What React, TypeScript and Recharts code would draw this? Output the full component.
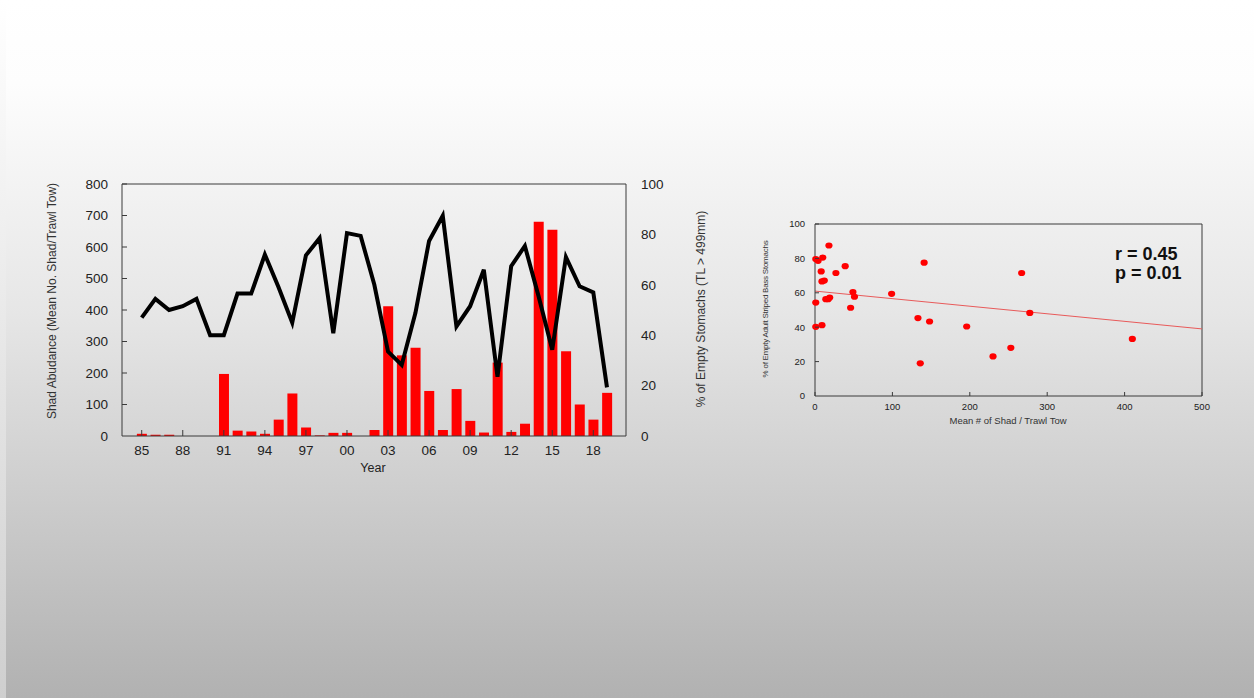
import React from 'react'
import {
  ComposedChart, Bar, Line, XAxis, YAxis, ReferenceLine,
  ScatterChart, Scatter,
} from 'recharts'

// left panel: shad abundance (bars) and % empty stomachs (line) by year
const years = [
  1985, 1986, 1987, 1988, 1989, 1990, 1991, 1992, 1993, 1994, 1995, 1996,
  1997, 1998, 1999, 2000, 2001, 2002, 2003, 2004, 2005, 2006, 2007, 2008,
  2009, 2010, 2011, 2012, 2013, 2014, 2015, 2016, 2017, 2018, 2019,
]
const shadAbundance = [
  7, 4, 4, 0, 0, 0, 197, 17, 14, 7, 52, 135,
  27, 2, 10, 10, 0, 19, 412, 256, 280, 143, 19, 149,
  48, 11, 233, 13, 39, 680, 655, 269, 100, 52, 137,
]
const emptyPct = [
  47, 54.4, 50, 51.5, 54.4, 40, 40, 56.5, 56.5, 72, 59, 45,
  71.7, 78.5, 40.8, 80.5, 79.4, 60, 33.5, 28.2, 48.8, 77.4, 87.4, 43.5,
  51.5, 66, 23.5, 67.4, 75.4, 55.5, 34.2, 71, 59.4, 57, 19.3,
]
const yearTicks = [1985, 1988, 1991, 1994, 1997, 2000, 2003, 2006, 2009, 2012, 2015, 2018]
const yearLabels = ['85', '88', '91', '94', '97', '00', '03', '06', '09', '12', '15', '18']
const abundanceTicks = [0, 100, 200, 300, 400, 500, 600, 700, 800]
const pctTicks = [0, 20, 40, 60, 80, 100]

// right panel: % empty vs mean shad per tow
const shadPerTow = [
  18, 1, 4, 10, 8, 27, 39, 141, 9, 12, 1, 14, 17, 19,
  49, 51, 99, 46, 1, 9, 133, 148, 136, 196, 230, 253, 267, 277.5, 410,
]
const emptyStomachs = [
  87.5, 79.6, 78.6, 80.5, 72.4, 71.5, 75.5, 77.5, 66.6, 67.1, 54.3, 56.3, 56.3, 57.2,
  60.4, 57.7, 59.4, 51.3, 40.2, 41.2, 45.3, 43.3, 19, 40.4, 23, 28, 71.5, 48.3, 33.2,
]
const fitX = [0, 500]
const fitY = [61, 39]
const shadTicks = [0, 100, 200, 300, 400, 500]
const scatterPctTicks = [0, 20, 40, 60, 80, 100]

const FONT = '"Liberation Sans", Arial, Helvetica, sans-serif'
const AXIS = '#3a3a3a'

const barData = years.map((y, i) => ({ year: y, shad: shadAbundance[i], pct: emptyPct[i] }))
const scatterData = shadPerTow.map((x, i) => ({ x, y: emptyStomachs[i] }))
const fitSegment = fitX.map((x, i) => ({ x, y: fitY[i] }))

// ticks that point into the plot, labels outside
const makeBottomTick = (size: number, margin: number, len: number, fontSize: number, labels?: Record<number, string>) =>
  (props: any) => {
    const { x, y, payload } = props
    const axisY = y - size - margin
    const text = labels ? labels[payload.value] : String(payload.value)
    return (
      <g>
        <line x1={x} x2={x} y1={axisY} y2={axisY - len} stroke={AXIS} strokeWidth={1} />
        <text x={x} y={y} dy="0.71em" textAnchor="middle" fill="#222" fontSize={fontSize} fontFamily={FONT}>
          {text}
        </text>
      </g>
    )
  }

const makeLeftTick = (size: number, margin: number, len: number, fontSize: number) =>
  (props: any) => {
    const { x, y, payload } = props
    const axisX = x + size + margin
    return (
      <g>
        {payload.value !== 0 && (
          <line x1={axisX} x2={axisX + len} y1={y} y2={y} stroke={AXIS} strokeWidth={1} />
        )}
        <text x={x} y={y} dy="0.355em" textAnchor="end" fill="#222" fontSize={fontSize} fontFamily={FONT}>
          {payload.value}
        </text>
      </g>
    )
  }

const RightTick = (props: any) => {
  const { x, y, payload } = props
  return (
    <text x={x} y={y} dy="0.355em" textAnchor="start" fill="#222" fontSize={13.5} fontFamily={FONT}>
      {payload.value}
    </text>
  )
}

const yearLabelMap: Record<number, string> = {}
yearTicks.forEach((t, i) => { yearLabelMap[t] = yearLabels[i] })

const YearTick = makeBottomTick(6, 3, 6, 13.5, yearLabelMap)
const AbundanceTick = makeLeftTick(6, 8, 5, 13.5)
const ShadTick = makeBottomTick(6, 1, 4, 9.5)
const ScatterPctTick = makeLeftTick(6, 4, 4, 9.5)

const title = (extra: React.CSSProperties): React.CSSProperties => ({
  position: 'absolute',
  fontFamily: FONT,
  color: '#333',
  whiteSpace: 'nowrap',
  ...extra,
})

export default function App() {
  return (
    <div
      style={{
        position: 'fixed', left: 0, top: 0, width: 1254, height: 698, overflow: 'hidden',
        background: 'linear-gradient(to bottom, #ffffff 0%, #fdfdfd 12%, #e6e6e6 45%, #c9c9c9 75%, #b1b1b1 100%)',
      }}
    >
      <div style={{ position: 'absolute', left: 0, top: 0, width: 6, height: 698, background: 'linear-gradient(to bottom, #ffffff 0%, #e2e2e2 60%, #cfcfcf 100%)' }} />

      <div style={{ position: 'absolute', left: 0, top: 0 }}>
        <ComposedChart
          width={760}
          height={500}
          data={barData}
          margin={{ top: 184, right: 74, bottom: 34, left: 62 }}
        >
          <XAxis
            dataKey="year"
            type="number"
            domain={[1983.56, 2020.39]}
            ticks={yearTicks}
            interval={0}
            allowDataOverflow
            height={30}
            stroke={AXIS}
            tickLine={false}
            tickSize={6}
            tickMargin={3}
            tick={YearTick}
          />
          <YAxis
            yAxisId="left"
            domain={[0, 800]}
            ticks={abundanceTicks}
            interval={0}
            width={60}
            stroke={AXIS}
            tickLine={false}
            tickSize={6}
            tickMargin={8}
            tick={AbundanceTick}
          />
          <YAxis
            yAxisId="right"
            orientation="right"
            domain={[0, 100]}
            ticks={pctTicks}
            interval={0}
            width={60}
            stroke={AXIS}
            tickLine={false}
            tickSize={6}
            tickMargin={9}
            tick={RightTick}
          />
          <ReferenceLine yAxisId="left" y={800} stroke={AXIS} strokeWidth={1} />
          <Bar yAxisId="left" dataKey="shad" fill="#ff0000" barSize={10} isAnimationActive={false} />
          <Line
            yAxisId="right"
            dataKey="pct"
            type="linear"
            stroke="#000000"
            strokeWidth={4}
            dot={false}
            activeDot={false}
            isAnimationActive={false}
          />
        </ComposedChart>
      </div>

      <div style={title({ left: 52, top: 301, fontSize: 12, transform: 'translate(-50%, -50%) rotate(-90deg)' })}>
        Shad Abudance (Mean No. Shad/Trawl Tow)
      </div>
      <div style={title({ left: 701, top: 309, fontSize: 12, transform: 'translate(-50%, -50%) rotate(-90deg)' })}>
        % of Empty Stomachs (TL &gt; 499mm)
      </div>
      <div style={title({ left: 373, top: 468, fontSize: 12.5, color: '#222', transform: 'translate(-50%, -50%)' })}>
        Year
      </div>

      <div style={{ position: 'absolute', left: 740, top: 180 }}>
        <ScatterChart
          width={500}
          height={260}
          margin={{ top: 44, right: 38, bottom: 24, left: 35 }}
        >
          <XAxis
            dataKey="x"
            type="number"
            domain={[0, 500]}
            ticks={shadTicks}
            interval={0}
            height={20}
            stroke={AXIS}
            tickLine={false}
            tickSize={6}
            tickMargin={1}
            tick={ShadTick}
          />
          <YAxis
            dataKey="y"
            type="number"
            domain={[0, 100]}
            ticks={scatterPctTicks}
            interval={0}
            width={40}
            stroke={AXIS}
            tickLine={false}
            tickSize={6}
            tickMargin={4}
            tick={ScatterPctTick}
          />
          <ReferenceLine y={100} stroke={AXIS} strokeWidth={1} />
          <ReferenceLine x={500} stroke={AXIS} strokeWidth={1} />
          <ReferenceLine segment={fitSegment} stroke="#e85a5a" strokeWidth={1} />
          <Scatter
            data={scatterData}
            fill="#ff0000"
            isAnimationActive={false}
            shape={(p: any) => <ellipse cx={p.cx} cy={p.cy} rx={3.6} ry={3.1} fill="#ff0000" />}
          />
        </ScatterChart>
      </div>

      <div style={title({ left: 765, top: 309, fontSize: 8, letterSpacing: -0.25, transform: 'translate(-50%, -50%) rotate(-90deg)' })}>
        % of Empty Adult Striped Bass Stomachs
      </div>
      <div style={title({ left: 1008, top: 420, fontSize: 9.5, transform: 'translate(-50%, -50%)' })}>
        Mean # of Shad / Trawl Tow
      </div>
      <div style={title({ left: 1115, top: 245, fontSize: 18, fontWeight: 'bold', color: '#111', lineHeight: '19px' })}>
        r = 0.45<br />p = 0.01
      </div>
    </div>
  )
}
